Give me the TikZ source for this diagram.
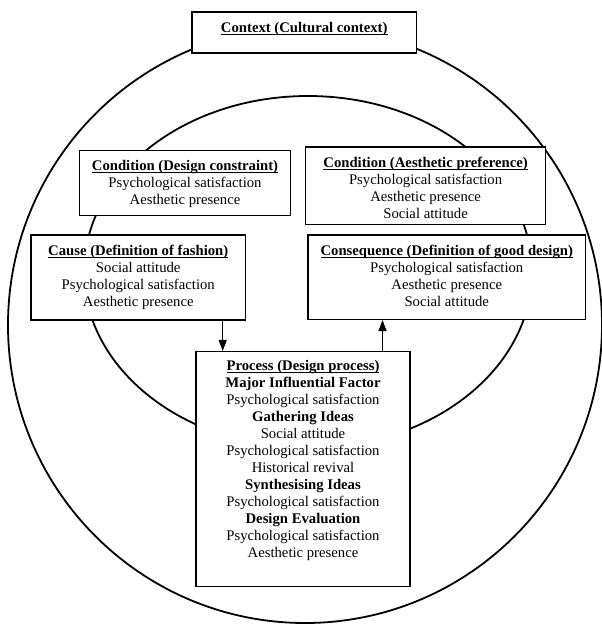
\documentclass[tikz,border=0pt]{standalone}
\usepackage{fontspec}
\setmainfont{Liberation Serif}
\usetikzlibrary{arrows.meta}
\newcommand{\hd}[1]{\textbf{\setbox0\hbox{#1}\rlap{\rule[-2.2pt]{\wd0}{1pt}}\box0}}
\begin{document}
\begin{tikzpicture}[x=1pt,y=-1pt,
  ring/.style={draw, line width=1.8pt},
  frame/.style={draw, line width=1.1pt, fill=white, rectangle, inner sep=0pt},
  txt/.style={anchor=north, align=center, inner sep=0pt, font=\fontsize{14.7}{17}\selectfont},
  arr/.style={line width=1.1pt, -{Triangle[width=8pt,length=11pt]}}]
\useasboundingbox (0,0) rectangle (602,624);
% rings
\draw[ring] (305,325) ellipse [x radius=297, y radius=298];
\draw[ring] (308,272) ellipse [x radius=224, y radius=176];
% boxes
\node[frame, minimum width=224.5pt, minimum height=41pt] (ctx) at (304.25,32.5) {};
\node[frame, minimum width=211pt, minimum height=65pt] (condl) at (185,183) {};
\node[frame, minimum width=239.8pt, minimum height=77.5pt] (condr) at (425.6,185.75) {};
\node[frame, minimum width=214.5pt, minimum height=85pt] (cause) at (138.25,277.5) {};
\node[frame, minimum width=277.5pt, minimum height=84.5pt] (cons) at (446.75,277.25) {};
\node[frame, minimum width=214pt, minimum height=235pt] (proc) at (303,469) {};
% texts
\node[txt] (ctxt) at ([yshift=-10.5pt]ctx.north) {\hd{Context (Cultural context)}};
\node[txt] (condlt) at ([yshift=-10.5pt]condl.north) {\hd{Condition (Design constraint)}\\Psychological satisfaction\\Aesthetic presence};
\node[txt] (condrt) at ([yshift=-10.5pt]condr.north) {\hd{Condition (Aesthetic preference)}\\Psychological satisfaction\\Aesthetic presence\\Social attitude};
\node[txt] (causet) at ([yshift=-10.5pt]cause.north) {\hd{Cause (Definition of fashion)}\\Social attitude\\Psychological satisfaction\\Aesthetic presence};
\node[txt] (const) at ([yshift=-10.5pt]cons.north) {\hd{Consequence (Definition of good design)}\\Psychological satisfaction\\Aesthetic presence\\Social attitude};
\node[txt] (proct) at ([yshift=-9.5pt]proc.north) {\hd{Process (Design process)}\\\textbf{Major Influential Factor}\\Psychological satisfaction\\\textbf{Gathering Ideas}\\Social attitude\\Psychological satisfaction\\Historical revival\\\textbf{Synthesising Ideas}\\Psychological satisfaction\\\textbf{Design Evaluation}\\Psychological satisfaction\\Aesthetic presence};
% arrows
\coordinate (a1) at (222.7,0);
\coordinate (a2) at (382.5,0);
\draw[arr] (cause.south -| a1) -- (proc.north -| a1);
\draw[arr] (proc.north -| a2) -- (cons.south -| a2);
\end{tikzpicture}
\end{document}
